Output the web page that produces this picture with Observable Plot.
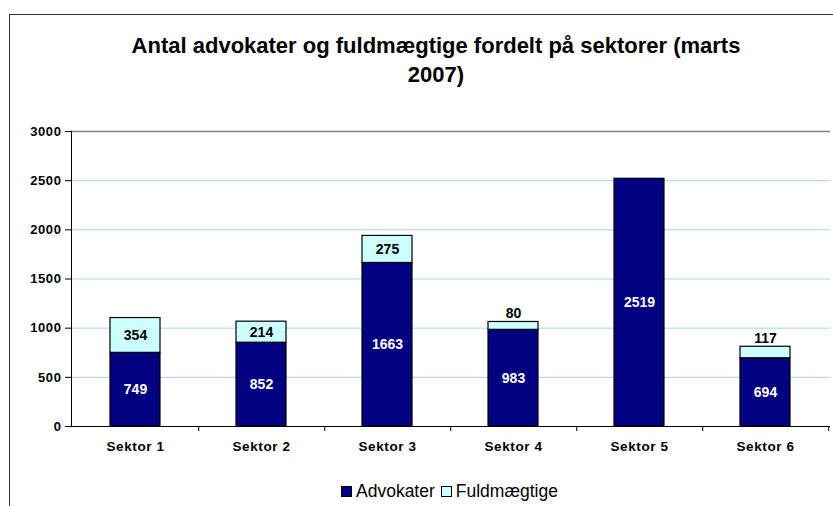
<!DOCTYPE html>
<html>
<head>
<meta charset="utf-8">
<script src="https://cdn.jsdelivr.net/npm/d3@7"></script>
<script src="https://cdn.jsdelivr.net/npm/@observablehq/plot@0.6"></script>
<style>
  html, body { margin: 0; padding: 0; background: #fff; overflow: hidden; }
  #wrap { position: relative; width: 833px; height: 506px; overflow: hidden; font-family: "Liberation Sans", Arial, sans-serif; }
  #frame { position: absolute; left: 9px; top: 14px; width: 900px; height: 600px; border: 1px solid #333; box-sizing: border-box; }
  #title { position: absolute; left: 86px; width: 700px; top: 31px; text-align: center; font-weight: bold; font-size: 22px; line-height: 29px; color: #000; }
  #chart { position: absolute; left: 0; top: 0; }
  #chart svg g[aria-label="x-axis tick label"] text,
  #chart svg g[aria-label="y-axis tick label"] text { letter-spacing: 0.6px; }
  #legend { position: absolute; left: 341px; top: 481px; font-size: 17.5px; color: #000; display: flex; align-items: center; white-space: nowrap; }
  #legend .sw { display: inline-block; width: 9px; height: 9px; border: 1px solid #000; margin-right: 4px; }
  #legend .item { display: inline-flex; align-items: center; margin-right: 6px; }
</style>
</head>
<body>
<div id="wrap">
  <div id="frame"></div>
  <div id="chart"></div>
  <div id="title"></div>
  <div id="legend"></div>
</div>
<script>
const titleLines = ["Antal advokater og fuldmægtige fordelt på sektorer (marts", "2007)"];
const sectors = ["Sektor 1", "Sektor 2", "Sektor 3", "Sektor 4", "Sektor 5", "Sektor 6"];
const advokater = [749, 852, 1663, 983, 2519, 694];
const fuldmaegtige = [354, 214, 275, 80, 0, 117];
const seriesNames = ["Advokater", "Fuldmægtige"];
const seriesColors = ["#000080", "#CCFFFF"];
const yTicks = [0, 500, 1000, 1500, 2000, 2500, 3000];

document.getElementById("title").innerHTML = titleLines.join("<br>");

const rows = [];
sectors.forEach((s, i) => {
  rows.push({sector: s, series: seriesNames[0], value: advokater[i]});
  rows.push({sector: s, series: seriesNames[1], value: fuldmaegtige[i]});
});

// label positions derived from the data
const advLabels = sectors.map((s, i) => ({sector: s, y: advokater[i] / 2, text: String(advokater[i])}));
const fuldInside = [], fuldAbove = [];
sectors.forEach((s, i) => {
  const f = fuldmaegtige[i];
  if (f <= 0) return;
  if (f >= 150) fuldInside.push({sector: s, y: advokater[i] + f / 2, text: String(f)});
  else fuldAbove.push({sector: s, y: advokater[i] + f, text: String(f)});
});

const W = 833, H = 506, mL = 71, mR = 3, mT = 131, mB = 80;
const step = (W - mL - mR) / sectors.length;
const font = "Liberation Sans, Arial, sans-serif";

const chart = Plot.plot({
  width: W,
  height: H,
  marginLeft: mL,
  marginRight: mR,
  marginTop: mT,
  marginBottom: mB,
  style: {fontFamily: font, background: "transparent", overflow: "visible"},
  x: {domain: sectors, paddingInner: 0.6, paddingOuter: 0.3, align: 0.5, label: null},
  y: {domain: [0, 3000], label: null},
  color: {domain: seriesNames, range: seriesColors},
  marks: [
    Plot.gridY(yTicks, {stroke: "#a9d2f7", strokeOpacity: 1, strokeWidth: 1}),
    Plot.ruleY([3000], {stroke: "#808080", strokeWidth: 1.5}),
    Plot.barY(rows, Plot.stackY({x: "sector", y: "value", fill: "series", stroke: "#000", strokeWidth: 1.2, order: seriesNames})),
    Plot.ruleY([0], {stroke: "#000", strokeWidth: 1}),
    Plot.frame({anchor: "left", stroke: "#000", strokeWidth: 1}),
    Plot.ruleX(sectors, {x: d => d, dx: step / 2, y1: 0, y2: 0, insetBottom: -5, stroke: "#000"}),
    Plot.axisY({ticks: yTicks, tickSize: 6, tickPadding: 4, tickFormat: d => String(d), fontWeight: "bold", fontSize: 13, stroke: "#000"}),
    Plot.axisX({tickSize: 0, tickPadding: 15, fontWeight: "bold", fontSize: 13.5}),
    Plot.text(advLabels, {x: "sector", y: "y", text: "text", fill: "#fff", fontWeight: "bold", fontSize: 14}),
    Plot.text(fuldInside, {x: "sector", y: "y", text: "text", fill: "#000", fontWeight: "bold", fontSize: 14}),
    Plot.text(fuldAbove, {x: "sector", y: "y", text: "text", fill: "#000", fontWeight: "bold", fontSize: 14, dy: -8})
  ]
});
document.getElementById("chart").appendChild(chart);

const legend = document.getElementById("legend");
seriesNames.forEach((n, i) => {
  const item = document.createElement("span");
  item.className = "item";
  const sw = document.createElement("span");
  sw.className = "sw";
  sw.style.background = seriesColors[i];
  item.appendChild(sw);
  item.appendChild(document.createTextNode(n));
  legend.appendChild(item);
});
</script>
</body>
</html>
